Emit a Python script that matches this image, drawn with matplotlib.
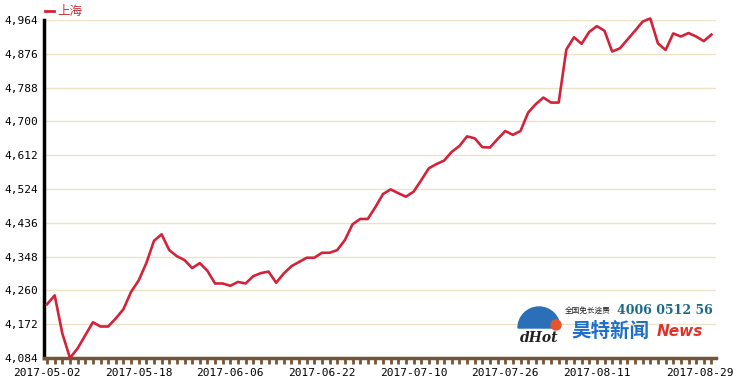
import matplotlib
matplotlib.use("Agg")
import matplotlib.pyplot as plt
import matplotlib.transforms as mtransforms
from matplotlib.patches import Ellipse, Wedge

# ---- data ----
series_name = "上海"
values = [4224, 4247, 4148, 4084, 4109, 4143, 4177, 4166, 4166, 4187,
          4211, 4256, 4286, 4331, 4389, 4406, 4365, 4349, 4339, 4318,
          4331, 4311, 4278, 4278, 4272, 4282, 4278, 4297, 4305, 4309,
          4280, 4304, 4323, 4334, 4345, 4345, 4358, 4358, 4365, 4391,
          4432, 4446, 4446, 4477, 4511, 4523, 4513, 4504, 4517, 4547,
          4578, 4589, 4598, 4621, 4636, 4661, 4656, 4633, 4632, 4654,
          4675, 4665, 4675, 4723, 4745, 4762, 4749, 4749, 4887, 4919,
          4902, 4933, 4948, 4936, 4882, 4890, 4913, 4936, 4960, 4968,
          4903, 4886, 4929, 4921, 4930, 4921, 4909, 4926]
x_labels = ["2017-05-02", "2017-05-18", "2017-06-06", "2017-06-22",
            "2017-07-10", "2017-07-26", "2017-08-11", "2017-08-29"]
label_index = [0, 12, 24, 36, 48, 60, 72, 84]
y_ticks = [4084, 4172, 4260, 4348, 4436, 4524, 4612, 4700, 4788, 4876, 4964]

LINE = "#d2233a"
GRID = "#ece2c6"
BROWN = "#75553a"

plt.rcParams['font.family'] = ['DejaVu Sans Mono', 'Noto Sans CJK SC']

fig = plt.figure(figsize=(7.36, 3.85), dpi=100)
ax = fig.add_axes([44/736, 1-358/385, (716-44)/736, (358-20)/385])

xs = list(range(len(values)))
ax.plot(xs, values, color=LINE, lw=1.9, clip_on=False, zorder=3)

ax.set_xlim(-0.4, 87.6)
ax.set_ylim(4084, 4964)
ax.set_yticks(y_ticks)
ax.set_yticklabels([f"{v:,}" for v in y_ticks], fontsize=8, color="black")
ax.tick_params(axis='y', length=0, pad=4)
ax.grid(axis='y', color=GRID, lw=1)
ax.set_axisbelow(True)

ax.set_xticks(xs, minor=True)
ax.set_xticks(label_index)
ax.set_xticklabels(x_labels, fontsize=8, color="black")
ax.tick_params(axis='x', which='both', length=4, width=2, color=BROWN, pad=3, direction='out')
# the last label sits a little to the right of its tick, as in the reference
last = ax.get_xticklabels()[-1]
last.set_transform(last.get_transform() + mtransforms.ScaledTranslation(11/100, 0, fig.dpi_scale_trans))

for s in ['top', 'right']:
    ax.spines[s].set_visible(False)
ax.spines['left'].set_color('black')
ax.spines['left'].set_linewidth(2.5)
ax.spines['bottom'].set_color(BROWN)
ax.spines['bottom'].set_linewidth(2.5)

# legend
fig.lines.append(plt.Line2D([45/736, 54/736], [1-11/385, 1-11/385],
                            color=LINE, lw=2, transform=fig.transFigure))
fig.text(57/736, 1-11/385, series_name, color="#c8323c", fontsize=9,
         family=['Noto Sans CJK SC'], va='center', ha='left')

# watermark logo
lax = fig.add_axes([516/736, 1-350/385, 50/736, 48/385])
lax.set_xlim(0, 50); lax.set_ylim(0, 48); lax.axis('off')
lax.add_patch(Wedge((23, 22), 21, 0, 180, color="#2a6fb8"))
lax.add_patch(Ellipse((40, 25), 10, 10, color="#e8542a"))
lax.text(23, 12, "dHot", fontsize=10, style='italic', weight='bold',
         ha='center', va='center', color="#222222", family=['DejaVu Serif'])
fig.text(565/736, 1-311/385, "全国免长途费", fontsize=5.5, color="#222222",
         family=['Noto Sans CJK SC'], va='center')
fig.text(617/736, 1-311/385, "4006 0512 56", fontsize=9, weight='bold',
         color="#1b6a8a", family=['DejaVu Serif'], va='center')
fig.text(571/736, 1-331/385, "昊特新闻", fontsize=14, weight='bold',
         color="#1f6fc8", family=['Noto Sans CJK SC'], va='center')
fig.text(657/736, 1-332/385, "News", fontsize=11, weight='bold', style='italic',
         color="#e0342a", family=['DejaVu Sans'], va='center')

fig.savefig("out.png", dpi=100, facecolor="white")
